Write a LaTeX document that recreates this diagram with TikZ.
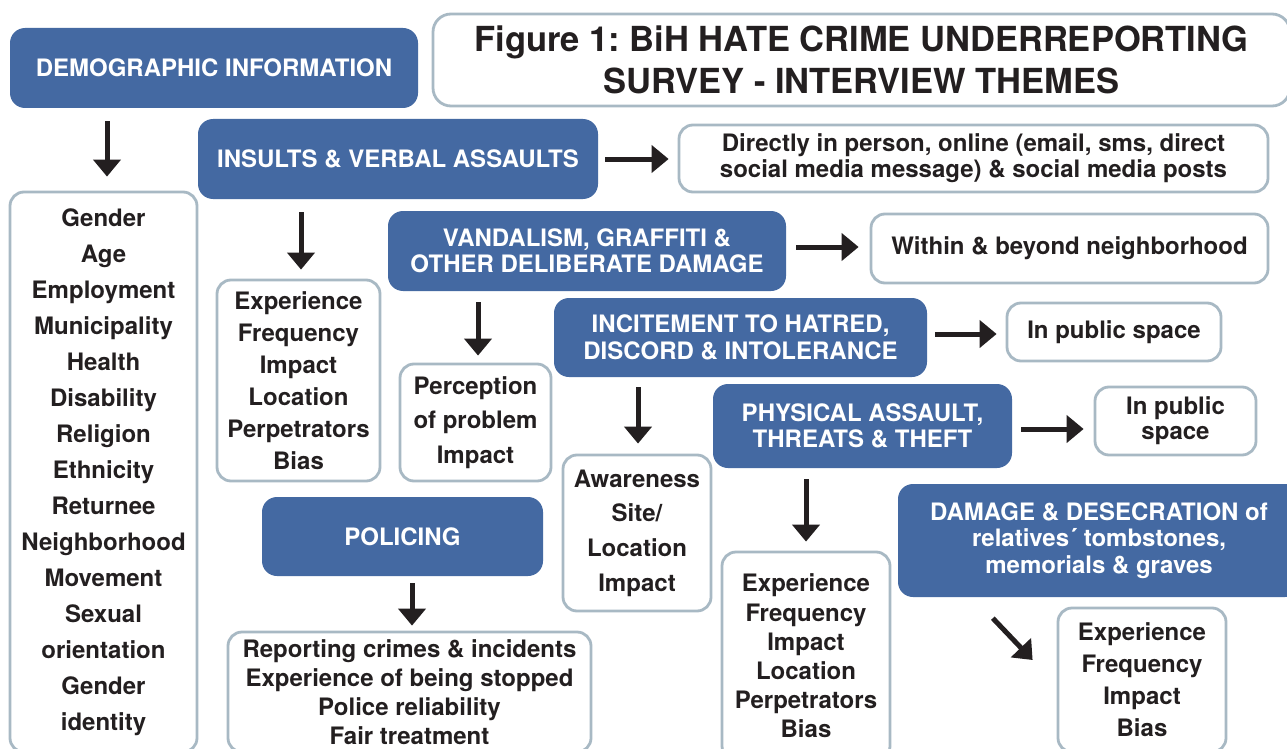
\documentclass[tikz,border=0pt]{standalone}
\usepackage{fontspec}
\setmainfont{TeX Gyre Heros}
\usetikzlibrary{arrows.meta}
\definecolor{hdrblue}{RGB}{68,105,162}
\definecolor{boxgrey}{RGB}{168,185,196}
\definecolor{ink}{RGB}{35,31,32}
\frenchspacing
\begin{document}
\begin{tikzpicture}[x=1pt,y=-1pt,
  lsp/.style={font=\fontsize{24}{#1}\selectfont\bfseries\frenchspacing},
  bluebox/.style={fill=hdrblue, rounded corners=15pt, text=white, align=center, inner sep=0pt},
  whitebox/.style={draw=boxgrey, line width=2.8pt, fill=white, rounded corners=14pt, text=ink, align=center, inner sep=0pt},
  thickarrow/.style={draw=ink, line width=5pt, -{Triangle[length=17pt,width=27pt]}},
  ]
\useasboundingbox (0,0) rectangle (1287,749);
\fill[white] (0,0) rectangle (1287,749);

% title
\node[whitebox, rounded corners=18pt, minimum width=857pt, minimum height=92pt,
      font=\fontsize{34.5}{42}\selectfont\bfseries\frenchspacing] (title) at (861.5,60)
  {Figure 1: BiH HATE CRIME UNDERREPORTING\\SURVEY - INTERVIEW THEMES};

% blue headers
\node[bluebox, minimum width=408pt, minimum height=80pt, lsp=26] (demo) at (214,68) {DEMOGRAPHIC INFORMATION};
\node[bluebox, minimum width=400pt, minimum height=80pt, lsp=26] (insults) at (398,159) {INSULTS \& VERBAL ASSAULTS};
\node[bluebox, minimum width=398pt, minimum height=80pt, lsp=26] (vand) at (587,251) {VANDALISM, GRAFFITI \&\\OTHER DELIBERATE DAMAGE};
\node[bluebox, minimum width=373pt, minimum height=79pt, lsp=27] (incite) at (740.5,337.5) {INCITEMENT TO HATRED,\\DISCORD \& INTOLERANCE};
\node[bluebox, minimum width=299pt, minimum height=84pt, lsp=26] (phys) at (862.5,426) {PHYSICAL ASSAULT,\\THREATS \& THEFT};
\node[bluebox, minimum width=402pt, minimum height=113pt, lsp=26.5] (damage) at (1099,540.5) {DAMAGE \& DESECRATION of\\relatives´ tombstones,\\memorials \& graves};
\node[bluebox, minimum width=281pt, minimum height=79pt, lsp=26] (policing) at (402.5,536.5) {POLICING};

% white boxes
\node[whitebox, minimum width=187pt, minimum height=560pt, lsp=36] (demlist) at (103.5,472)
  {Gender\\Age\\Employment\\Municipality\\Health\\Disability\\Religion\\Ethnicity\\Returnee\\Neighborhood\\Movement\\Sexual\\orientation\\Gender\\identity};
\node[whitebox, minimum width=589pt, minimum height=67pt, lsp=26] (direct) at (973.5,158.5)
  {Directly in person, online (email, sms, direct\\social media message) \& social media posts};
\node[whitebox, minimum width=163pt, minimum height=201pt, lsp=32] (exp1) at (298.5,380.5)
  {Experience\\Frequency\\Impact\\Location\\Perpetrators\\Bias};
\node[whitebox, minimum width=397pt, minimum height=69pt, lsp=26] (within) at (1069.5,248.5)
  {Within \& beyond neighborhood};
\node[whitebox, minimum width=151pt, minimum height=117pt, lsp=34.5] (perc) at (475.5,422.5)
  {Perception\\of problem\\Impact};
\node[whitebox, minimum width=214pt, minimum height=58pt, lsp=26] (pub1) at (1114,332)
  {In public space};
\node[whitebox, minimum width=161pt, minimum height=68pt, lsp=25] (pub2) at (1175.5,421)
  {In public\\space};
\node[whitebox, minimum width=148pt, minimum height=156pt, lsp=34.7] (aware) at (637,533)
  {Awareness\\Site/\\Location\\Impact};
\node[whitebox, minimum width=168pt, minimum height=208pt, lsp=29.2] (exp2) at (806,656)
  {Experience\\Frequency\\Impact\\Location\\Perpetrators\\Bias};
\node[whitebox, minimum width=168pt, minimum height=144pt, lsp=32] (exp3) at (1142,680)
  {Experience\\Frequency\\Impact\\Bias};
\node[whitebox, minimum width=363pt, minimum height=120pt, lsp=29] (pollist) at (409.5,692)
  {Reporting crimes \& incidents\\Experience of being stopped\\Police reliability\\Fair treatment};

% arrows
\draw[thickarrow, shorten <=13pt, shorten >=14pt] ([xshift=3.5pt]demo.south -| demlist.north) -- ([xshift=3.5pt]demlist.north);
\draw[thickarrow, shorten <=13pt, shorten >=9pt] ([xshift=2.5pt]insults.south -| exp1.north) -- ([xshift=2.5pt]exp1.north);
\draw[thickarrow, shorten <=7pt, shorten >=9pt] (insults.east) -- (insults.east -| direct.west);
\draw[thickarrow, shorten <=10pt, shorten >=11pt] ([yshift=1.5pt]vand.east |- within.west) -- ([yshift=1.5pt]within.west);
\draw[thickarrow, shorten <=11pt, shorten >=7pt] ([xshift=2.5pt]vand.south -| perc.north) -- ([xshift=2.5pt]perc.north);
\draw[thickarrow, shorten <=8pt, shorten >=9pt] ([yshift=-2pt]incite.east |- pub1.west) -- ([yshift=-2pt]pub1.west);
\draw[thickarrow, shorten <=10pt, shorten >=10pt] ([xshift=1pt]incite.south -| aware.north) -- ([xshift=1pt]aware.north);
\draw[thickarrow, shorten <=9pt, shorten >=10pt] ([yshift=-3pt]phys.east) -- ([yshift=-3pt]phys.east -| pub2.west);
\draw[thickarrow, shorten <=11pt, shorten >=9pt] (phys.south -| exp2.north) -- (exp2.north);
\draw[thickarrow] ([xshift=95pt,yshift=-21pt]damage.south west) -- ([xshift=-24pt,yshift=20pt]exp3.west);
\draw[thickarrow, shorten <=7pt, shorten >=5pt] ([xshift=2.5pt]policing.south -| pollist.north) -- ([xshift=2.5pt]pollist.north);
\end{tikzpicture}
\end{document}
